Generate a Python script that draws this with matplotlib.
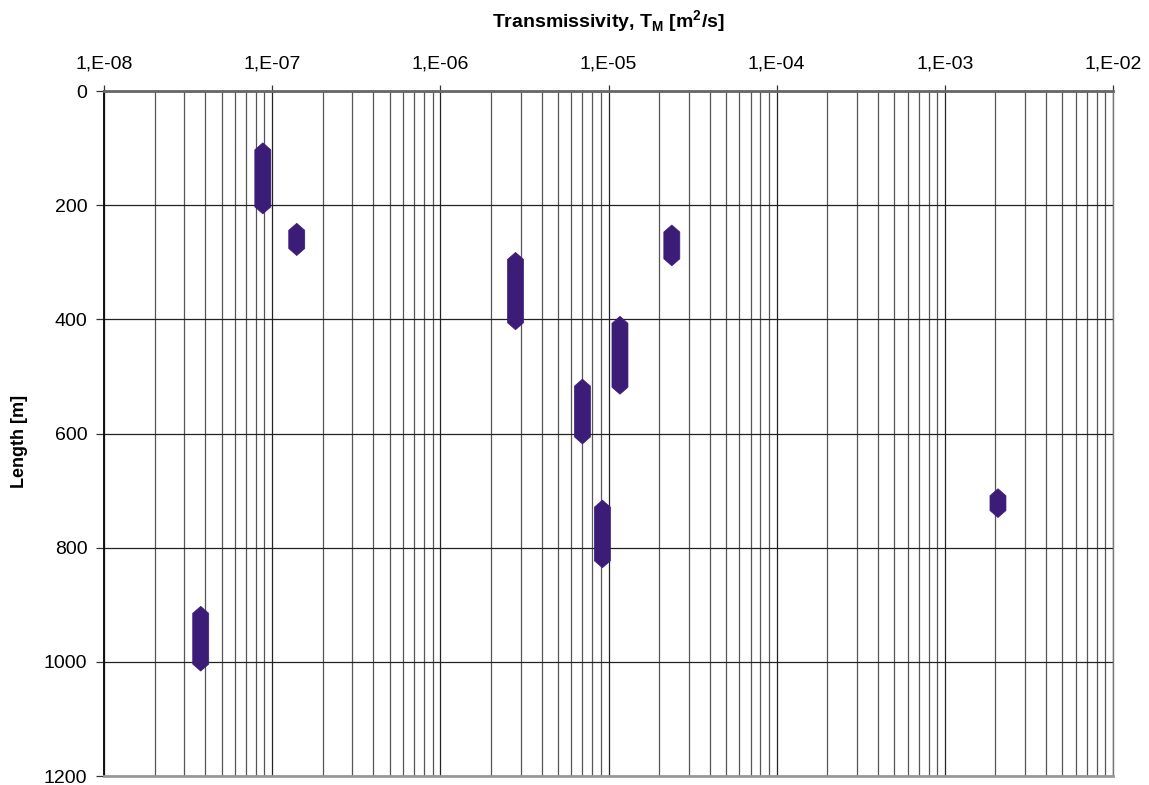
import numpy as np
import matplotlib
matplotlib.use("Agg")
import matplotlib.pyplot as plt
from matplotlib.patches import Polygon
from matplotlib.ticker import LogLocator, FixedLocator

plt.rcParams['font.family'] = ['Liberation Sans', 'DejaVu Sans']

# Data: transmissivity (m2/s) and section interval along borehole (m)
transmissivity = [3.76e-8, 8.8e-8, 1.4e-7, 2.8e-6, 7.0e-6, 9.2e-6, 1.17e-5, 2.38e-5, 2.07e-3]
sec_top = [915, 103, 244, 295, 517, 729, 407, 247, 709]
sec_bottom = [1004, 203, 276, 406, 606, 823, 519, 294, 735]

x_ticks = [1e-8, 1e-7, 1e-6, 1e-5, 1e-4, 1e-3, 1e-2]
x_ticklabels = ["1,E-08", "1,E-07", "1,E-06", "1,E-05", "1,E-04", "1,E-03", "1,E-02"]
y_ticks = [0, 200, 400, 600, 800, 1000, 1200]

W, H = 1149, 785
fig = plt.figure(figsize=(W / 100, H / 100), dpi=100)
ax = fig.add_axes([104 / W, 1 - 776 / H, (1113 - 104) / W, (776 - 91) / H])

ax.set_xscale('log')
ax.set_xlim(1e-8, 1e-2)
ax.set_ylim(1200, 0)

# grid
ax.xaxis.set_major_locator(FixedLocator(x_ticks))
ax.xaxis.set_minor_locator(LogLocator(base=10, subs=np.arange(2, 10), numticks=20))
ax.set_yticks(y_ticks)
ax.grid(which='major', axis='x', color='#222222', lw=0.9)
ax.grid(which='minor', axis='x', color='#555555', lw=0.9)
ax.grid(which='major', axis='y', color='#222222', lw=0.9)
ax.set_axisbelow(True)

ax.xaxis.tick_top()
ax.set_xticklabels(x_ticklabels)
ax.tick_params(axis='x', which='major', top=True, bottom=False, length=4, width=0.9,
               pad=9, labelsize=14, direction='out', color='#333333')
ax.tick_params(axis='x', which='minor', top=False, bottom=False)
ax.tick_params(axis='y', which='major', left=True, length=6, width=0.9, pad=6,
               labelsize=14, direction='out', color='#333333')

ax.spines['left'].set_color('#111111'); ax.spines['left'].set_linewidth(1.4)
ax.spines['top'].set_color('#666666'); ax.spines['top'].set_linewidth(2.0)
ax.spines['bottom'].set_color('#999999'); ax.spines['bottom'].set_linewidth(2.0)
ax.spines['right'].set_color('#777777'); ax.spines['right'].set_linewidth(1.0)

# elongated hexagon markers
decade_px = (1113 - 104) / 6.0
unit_px = (776 - 91) / 1200.0
half_w = 8.0 / decade_px      # in decades
cap = 7.0 / unit_px           # in metres
color = '#3b1c77'
for t, y0, y1 in zip(transmissivity, sec_top, sec_bottom):
    lx = np.log10(t)
    c = min(cap, (y1 - y0) * 0.45 + 3)
    xl, xr = 10 ** (lx - half_w), 10 ** (lx + half_w)
    verts = [(t, y0 - c), (xr, y0), (xr, y1), (t, y1 + c), (xl, y1), (xl, y0)]
    ax.add_patch(Polygon(verts, closed=True, facecolor=color, edgecolor=color,
                         lw=0.5, zorder=3))

fig.text(608 / W, 1 - 22 / H, r"Transmissivity, T$_\mathregular{M}$ [m$^\mathregular{2}$/s]",
         ha='center', va='center', fontsize=14, fontweight='bold')
fig.text(20 / W, 1 - 441 / H, "Length [m]", rotation=90, ha='center', va='center',
         fontsize=13, fontweight='bold')

fig.savefig('out.png', dpi=100)
